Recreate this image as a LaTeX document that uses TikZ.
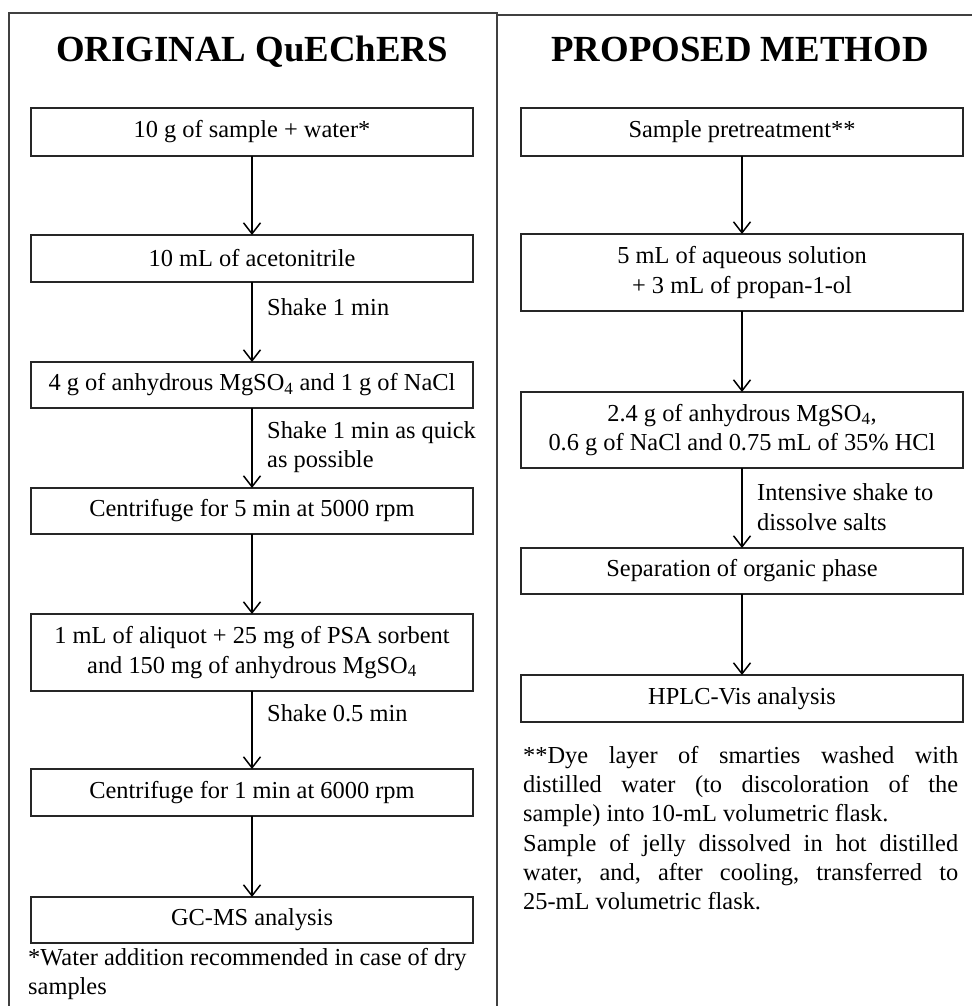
\documentclass[tikz,border=0pt]{standalone}
\usepackage{fontspec}
\setmainfont{Liberation Serif}
\usetikzlibrary{arrows.meta}
\begin{document}
\begin{tikzpicture}[x=1pt,y=-1pt,
  stepbox/.style={draw=black!85, line width=1.3pt, inner sep=0pt, outer sep=0pt,
    minimum width=442pt, align=center, font=\fontsize{24.4}{29.5}\selectfont},
  lbl/.style={inner sep=0pt, anchor=west, align=left, font=\fontsize{24.4}{29.5}\selectfont},
  ttl/.style={inner sep=0pt, anchor=base, font=\fontsize{36.8}{40}\selectfont\bfseries},
  note/.style={inner sep=0pt, anchor=north west, align=left, font=\fontsize{24.4}{29.3}\selectfont},
  arr/.style={line width=1.5pt, -{Straight Barb[length=11pt,width=17pt]}},
  frame/.style={draw=black!75, line width=1.2pt}]
\useasboundingbox[fill=white] (0,0) rectangle (972,1006);
% panel frames
\draw[frame] (9,1006) -- (9,13) -- (497,13) -- (497,1006);
\draw[frame] (497,15) -- (972,15);
% titles
\node[ttl] (t1) at (252,62) {ORIGINAL QuEChERS};
\node[ttl] (t2) at (740,62) {PROPOSED METHOD};
% left column
\node[stepbox, minimum height=48pt] (a1) at (252,132) {10 g of sample + water*};
\node[stepbox, minimum height=47pt] (a2) at (252,258.5) {10 mL of acetonitrile};
\node[stepbox, minimum height=46pt] (a3) at (252,385) {4 g of anhydrous MgSO\textsubscript{4} and 1 g of NaCl};
\node[stepbox, minimum height=46pt] (a4) at (252,511) {Centrifuge for 5 min at 5000 rpm};
\node[stepbox, minimum height=77pt] (a5) at (252,652.5) {1 mL of aliquot + 25 mg of PSA sorbent\\and 150 mg of anhydrous MgSO\textsubscript{4}};
\node[stepbox, minimum height=47pt] (a6) at (252,792.5) {Centrifuge for 1 min at 6000 rpm};
\node[stepbox, minimum height=46pt] (a7) at (252,920) {GC-MS analysis};
\draw[arr] (a1) -- (a2);
\draw[arr] (a2) -- (a3);
\draw[arr] (a3) -- (a4);
\draw[arr] (a4) -- (a5);
\draw[arr] (a5) -- (a6);
\draw[arr] (a6) -- (a7);
\node[lbl] (l1) at (267,307) {Shake 1 min};
\node[lbl] (l2) at (267,447) {Shake 1 min as quick\\as possible};
\node[lbl] (l3) at (267,713) {Shake 0.5 min};
\node[note] (n1) at (28,948) {*Water addition recommended in case of dry\\samples};
% right column
\node[stepbox, minimum height=48pt] (b1) at (742,132) {Sample pretreatment**};
\node[stepbox, minimum height=77pt] (b2) at (742,272.5) {5 mL of aqueous solution\\+ 3 mL of propan-1-ol};
\node[stepbox, minimum height=76pt] (b3) at (742,430) {2.4 g of anhydrous MgSO\textsubscript{4},\\0.6 g of NaCl and 0.75 mL of 35\% HCl};
\node[stepbox, minimum height=46pt] (b4) at (742,571) {Separation of organic phase};
\node[stepbox, minimum height=47pt] (b5) at (742,698.5) {HPLC-Vis analysis};
\draw[arr] (b1) -- (b2);
\draw[arr] (b2) -- (b3);
\draw[arr] (b3) -- (b4);
\draw[arr] (b4) -- (b5);
\node[lbl] (l4) at (757,507) {Intensive shake to\\dissolve salts};
\node[note] (n2) at (523,746) {%
\hbox to 435pt{**Dye\hfill layer\hfill of\hfill smarties\hfill washed\hfill with}\\
\hbox to 435pt{distilled\hfill water\hfill (to\hfill discoloration\hfill of\hfill the}\\
sample) into 10-mL volumetric flask.\\
\hbox to 435pt{Sample\hfill of\hfill jelly\hfill dissolved\hfill in\hfill hot\hfill distilled}\\
\hbox to 435pt{water,\hfill and,\hfill after\hfill cooling,\hfill transferred\hfill to}\\
25-mL volumetric flask.};
\end{tikzpicture}
\end{document}
